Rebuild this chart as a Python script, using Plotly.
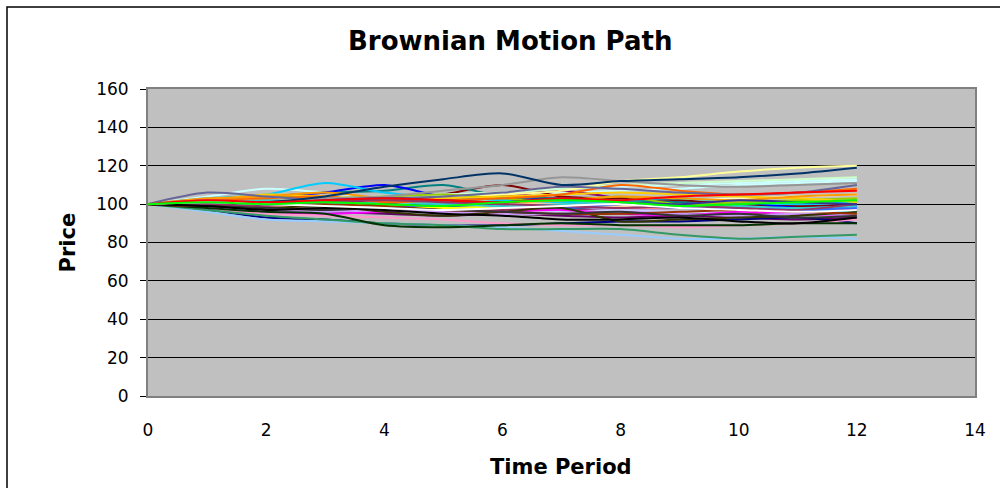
import plotly.graph_objects as go

time_periods = list(range(0, 13))

series_colors = [
    "#9999FF", "#993366", "#FFFFCC", "#CCFFFF", "#660066", "#FF8080", "#0066CC", "#CCCCFF",
    "#000080", "#FF00FF", "#FFFF00", "#00FFFF", "#800080", "#800000", "#008080", "#0000FF",
    "#00CCFF", "#CCFFFF", "#CCFFCC", "#FFFF99", "#99CCFF", "#FF99CC", "#CC99FF", "#FFCC99",
    "#3366FF", "#33CCCC", "#99CC00", "#FFCC00", "#FF9900", "#FF6600", "#666699", "#969696",
    "#003366", "#339966", "#003300", "#333300", "#993300", "#993366", "#333399", "#333333",
    "#000000", "#FFFFFF", "#FF0000", "#00FF00",
]

path_01 = [100, 101, 100, 99, 101, 100, 99, 98, 97, 98, 97, 96, 97]
path_02 = [100, 99, 98, 99, 97, 96, 97, 98, 96, 95, 95, 96, 97]
path_03 = [100, 103, 104, 103, 101, 100, 101, 102, 103, 102, 103, 104, 105]
path_04 = [100, 104, 108, 106, 103, 102, 104, 106, 107, 108, 110, 111, 112]
path_05 = [100, 99, 97, 96, 95, 94, 95, 94, 93, 94, 93, 92, 93]
path_06 = [100, 100, 99, 97, 98, 99, 99, 100, 98, 98, 99, 100, 99]
path_07 = [100, 101, 102, 101, 100, 99, 99, 98, 99, 98, 97, 98, 96]
path_08 = [100, 98, 96, 97, 96, 97, 95, 96, 97, 96, 96, 97, 98]
path_09 = [100, 97, 93, 92, 90, 89, 89, 90, 91, 91, 92, 93, 90]
path_10 = [100, 98, 96, 95, 96, 97, 96, 97, 95, 94, 96, 95, 94]
path_11 = [100, 101, 100, 101, 99, 98, 99, 100, 102, 101, 99, 100, 102]
path_12 = [100, 101, 103, 104, 102, 101, 103, 101, 103, 102, 99, 98, 96]
path_13 = [100, 100, 101, 102, 101, 103, 104, 107, 103, 101, 100, 98, 97]
path_14 = [100, 101, 103, 102, 100, 105, 110, 104, 103, 102, 100, 99, 100]
path_15 = [100, 102, 104, 106, 107, 110, 104, 103, 102, 101, 100, 101, 102]
path_16 = [100, 101, 103, 106, 110, 104, 103, 102, 101, 100, 101, 98, 99]
path_17 = [100, 103, 105, 111, 106, 103, 102, 101, 102, 103, 101, 100, 101]
path_18 = [100, 102, 101, 103, 104, 105, 106, 108, 109, 110, 111, 112, 113]
path_19 = [100, 101, 103, 102, 104, 105, 106, 108, 110, 111, 112, 113, 114]
path_20 = [100, 102, 103, 104, 103, 104, 105, 107, 112, 114, 117, 119, 120]
path_21 = [100, 96, 92, 91, 90, 89, 88, 86, 84, 82, 82, 83, 82]
path_22 = [100, 98, 95, 94, 93, 92, 90, 89, 89, 88, 89, 90, 92]
path_23 = [100, 98, 97, 96, 97, 96, 95, 95, 96, 95, 94, 95, 94]
path_24 = [100, 101, 99, 100, 101, 102, 101, 100, 99, 100, 101, 102, 103]
path_25 = [100, 99, 100, 99, 98, 100, 99, 98, 100, 99, 98, 97, 98]
path_26 = [100, 101, 102, 100, 101, 100, 99, 100, 101, 100, 99, 98, 99]
path_27 = [100, 102, 104, 103, 104, 105, 103, 102, 104, 100, 101, 102, 103]
path_28 = [100, 102, 105, 104, 102, 103, 104, 105, 106, 105, 104, 103, 101]
path_29 = [100, 103, 104, 106, 103, 102, 101, 102, 104, 103, 102, 104, 105]
path_30 = [100, 102, 103, 104, 101, 102, 103, 105, 110, 107, 105, 106, 108]
path_31 = [100, 106, 104, 102, 103, 104, 106, 109, 108, 106, 105, 106, 110]
path_32 = [100, 102, 101, 103, 104, 107, 110, 114, 112, 110, 109, 110, 111]
path_33 = [100, 100, 101, 104, 109, 113, 116, 110, 112, 113, 114, 116, 119]
path_34 = [100, 97, 94, 92, 90, 89, 87, 87, 87, 84, 82, 83, 84]
path_35 = [100, 98, 96, 95, 89, 88, 89, 90, 89, 89, 89, 90, 90]
path_36 = [100, 99, 98, 99, 96, 94, 96, 98, 91, 92, 93, 94, 96]
path_37 = [100, 99, 101, 100, 99, 97, 96, 95, 95, 96, 97, 96, 95]
path_38 = [100, 100, 99, 101, 102, 101, 100, 99, 98, 99, 98, 97, 100]
path_39 = [100, 101, 100, 102, 103, 102, 101, 103, 101, 100, 102, 101, 100]
path_40 = [100, 99, 98, 97, 98, 97, 96, 95, 96, 94, 95, 93, 94]
path_41 = [100, 99, 97, 98, 97, 95, 94, 92, 92, 93, 91, 90, 93]
path_42 = [100, 101, 100, 99, 98, 97, 98, 99, 100, 98, 97, 96, 97]
path_43 = [100, 102, 101, 102, 103, 102, 101, 103, 102, 104, 105, 106, 107]
path_44 = [100, 101, 100, 101, 100, 99, 101, 102, 101, 99, 100, 101, 102]

paths = [
    path_01, path_02, path_03, path_04, path_05, path_06, path_07, path_08, path_09, path_10,
    path_11, path_12, path_13, path_14, path_15, path_16, path_17, path_18, path_19, path_20,
    path_21, path_22, path_23, path_24, path_25, path_26, path_27, path_28, path_29, path_30,
    path_31, path_32, path_33, path_34, path_35, path_36, path_37, path_38, path_39, path_40,
    path_41, path_42, path_43, path_44,
]

x_tick_values = [0, 2, 4, 6, 8, 10, 12, 14]
y_tick_values = [0, 20, 40, 60, 80, 100, 120, 140, 160]

fig = go.Figure()
for i, (vals, col) in enumerate(zip(paths, series_colors)):
    fig.add_trace(go.Scatter(
        x=time_periods, y=vals, mode="lines",
        line=dict(color=col, width=2, shape="spline", smoothing=0.8),
        name=f"Path {i + 1}", showlegend=False, hoverinfo="skip",
    ))

L, R, T, B = 148, 25, 89, 92
PW, PH = 1000 - L - R, 488 - T - B

fig.update_layout(
    width=1000, height=488,
    margin=dict(l=L, r=R, t=T, b=B),
    paper_bgcolor="white", plot_bgcolor="#C0C0C0",
    font=dict(family="DejaVu Sans, Arial, sans-serif", size=17, color="black"),
    showlegend=False,
    xaxis=dict(
        range=[0, 14], tickvals=x_tick_values, ticks="", showgrid=False, zeroline=False,
        showline=True, linecolor="#808080", linewidth=2, mirror=True,
        ticklabelstandoff=18, tickfont=dict(size=17),
    ),
    yaxis=dict(
        range=[0, 160], tickvals=y_tick_values, ticks="outside", ticklen=6, tickcolor="black",
        showgrid=True, gridcolor="black", gridwidth=1, zeroline=False,
        showline=True, linecolor="#808080", linewidth=2, mirror=True,
        ticklabelstandoff=8, tickfont=dict(size=17),
    ),
    annotations=[
        dict(text="<b>Brownian Motion Path</b>", xref="paper", yref="paper",
             x=(510 - L) / PW, y=(488 - B - 41) / PH, xanchor="center", yanchor="middle",
             showarrow=False, font=dict(size=26)),
        dict(text="<b>Time Period</b>", xref="paper", yref="paper",
             x=(561 - L) / PW, y=(488 - B - 467) / PH, xanchor="center", yanchor="middle",
             showarrow=False, font=dict(size=21)),
        dict(text="<b>Price</b>", xref="paper", yref="paper",
             x=(67 - L) / PW, y=0.5, xanchor="center", yanchor="middle", textangle=-90,
             showarrow=False, font=dict(size=21)),
    ],
    shapes=[
        dict(type="rect", xref="paper", yref="paper",
             x0=(7 - L) / PW, x1=(1020 - L) / PW,
             y0=(488 - B - 500) / PH, y1=(488 - B - 7) / PH,
             line=dict(color="black", width=1.5), fillcolor="rgba(0,0,0,0)", layer="below"),
    ],
)

fig.write_html("out.html")
